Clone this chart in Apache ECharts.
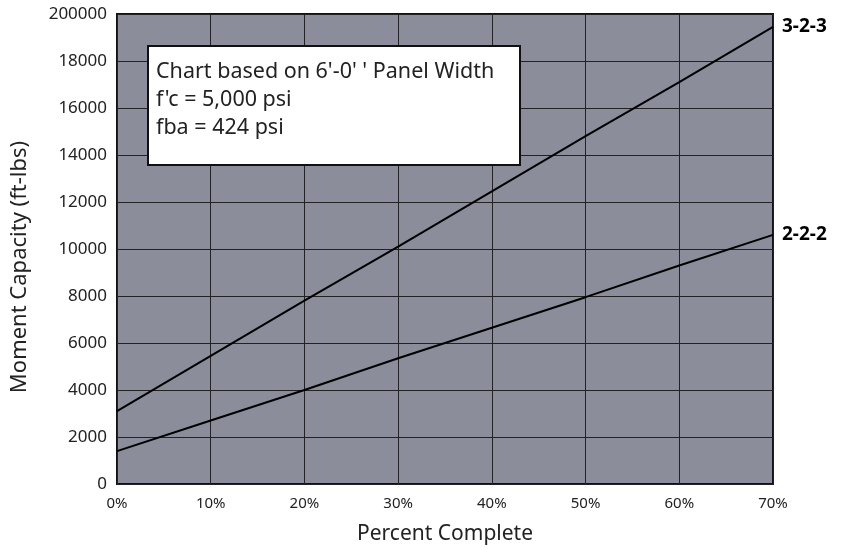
<!DOCTYPE html>
<html>
<head>
<meta charset="utf-8">
<script src="https://cdn.jsdelivr.net/npm/echarts@6/dist/echarts.min.js"></script>
<style>
  html, body { margin: 0; padding: 0; background: #fff; }
  #chart { width: 848px; height: 550px; }
</style>
</head>
<body>
<div id="chart"></div>
<script>
// percent complete (x) and moment capacity (y)
const percents = [0, 10, 20, 30, 40, 50, 60, 70];
const panel323 = [3100, 5450, 7800, 10100, 12450, 14800, 17100, 19450];
const panel222 = [1400, 2700, 4000, 5350, 6650, 7950, 9300, 10600];
// the top tick of the original reads "200000"
const yTickLabels = ['0', '2000', '4000', '6000', '8000', '10000', '12000', '14000', '16000', '18000', '200000'];
const noteLines = ["Chart based on 6'-0' ' Panel Width", "f'c = 5,000 psi", 'fba = 424 psi'];

const font = '"Noto Sans", "Open Sans", sans-serif';

const toPairs = (ys) => percents.map((p, i) => [p, ys[i]]);

const chart = echarts.init(document.getElementById('chart'));
const option = {
	animation: false,
	textStyle: { fontFamily: font },
	grid: {
		left: 117, right: 75, top: 14, bottom: 63,
		show: true,
		backgroundColor: '#8b8d9b',
		borderColor: '#111',
		borderWidth: 2,
	},
	xAxis: {
		type: 'value',
		min: 0, max: 70, interval: 10,
		name: 'Percent Complete',
		nameLocation: 'middle',
		nameGap: 40,
		nameTextStyle: { fontSize: 21, color: '#222', fontFamily: font },
		axisLine: { show: false },
		axisTick: { show: false },
		axisLabel: { color: '#222', fontSize: 15, margin: 12, fontFamily: font, formatter: '{value}%' },
		splitLine: { lineStyle: { color: '#222', width: 1 } },
	},
	yAxis: {
		type: 'value',
		min: 0, max: 20000, interval: 2000,
		name: 'Moment Capacity (ft-lbs)',
		nameLocation: 'middle',
		nameGap: 86,
		nameTextStyle: { fontSize: 22, color: '#222', fontFamily: font, padding: [0, 36, 0, 0] },
		axisLine: { show: false },
		axisTick: { show: false },
		axisLabel: {
			color: '#222', fontSize: 17, margin: 10, fontFamily: font,
			formatter: (v) => yTickLabels[Math.round(v / 2000)],
		},
		splitLine: { lineStyle: { color: '#222', width: 1 } },
	},
	series: [
		{
			name: '3-2-3',
			type: 'line',
			data: toPairs(panel323),
			showSymbol: false,
			lineStyle: { color: '#000', width: 2 },
			endLabel: { show: true, formatter: '{a}', color: '#000', fontWeight: 'bold', fontSize: 19, distance: 9, fontFamily: font },
		},
		{
			name: '2-2-2',
			type: 'line',
			data: toPairs(panel222),
			showSymbol: false,
			lineStyle: { color: '#000', width: 2 },
			endLabel: { show: true, formatter: '{a}', color: '#000', fontWeight: 'bold', fontSize: 19, distance: 9, fontFamily: font },
		},
	],
	graphic: [
		{
			type: 'rect',
			z: 100,
			shape: { x: 148, y: 46, width: 372, height: 119 },
			style: { fill: '#fff', stroke: '#111', lineWidth: 2 },
		},
		{
			type: 'text',
			z: 101,
			left: 156, top: 58,
			style: {
				text: noteLines.join('\n'),
				fill: '#222',
				font: '21.5px ' + font,
				lineHeight: 28,
			},
		},
	],
};
chart.setOption(option);
</script>
</body>
</html>
